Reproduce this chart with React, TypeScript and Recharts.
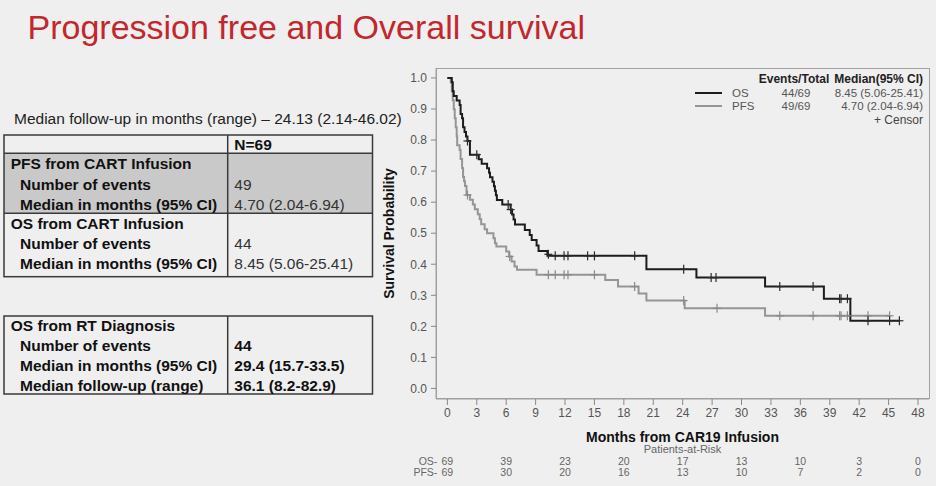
import React from 'react';
import { ComposedChart, Line, Scatter, XAxis, YAxis, Legend } from 'recharts';

const FONT = '"Liberation Sans", Arial, Helvetica, sans-serif';

// ---- axis ticks ----
const monthTicks = [0, 3, 6, 9, 12, 15, 18, 21, 24, 27, 30, 33, 36, 39, 42, 45, 48];
const probTicks = [0, 0.1, 0.2, 0.3, 0.4, 0.5, 0.6, 0.7, 0.8, 0.9, 1.0];

// ---- patients at risk ----
const riskTimes = [0, 6, 12, 18, 24, 30, 36, 42, 48];
const osAtRisk = [69, 39, 23, 20, 17, 13, 10, 3, 0];
const pfsAtRisk = [69, 30, 20, 16, 13, 10, 7, 2, 0];

// ---- OS Kaplan-Meier steps ----
const osTimes = [0, 0.45, 0.55, 0.65, 0.95, 1.25, 1.35, 1.5, 1.6, 1.75, 1.9, 2.05, 2.3, 3.2, 3.5, 4.05, 4.25, 4.35, 4.6, 4.75, 4.85, 4.95, 5.05, 5.6, 6.45, 6.6, 6.75, 6.9, 7.9, 8.4, 8.6, 9.1, 9.3, 10.2, 20.3, 25.4, 32.4, 38.4, 41.1, 46.1];
const osSurv = [1.0, 0.986, 0.957, 0.942, 0.927, 0.913, 0.884, 0.87, 0.841, 0.826, 0.811, 0.797, 0.753, 0.738, 0.724, 0.709, 0.695, 0.68, 0.666, 0.651, 0.637, 0.622, 0.607, 0.592, 0.576, 0.56, 0.544, 0.528, 0.51, 0.494, 0.478, 0.46, 0.443, 0.427, 0.384, 0.357, 0.328, 0.289, 0.218, 0.218];

// ---- PFS Kaplan-Meier steps ----
const pfsTimes = [0, 0.35, 0.45, 0.55, 0.65, 0.75, 0.85, 0.95, 1.0, 1.25, 1.35, 1.5, 1.6, 1.7, 1.8, 1.95, 2.3, 2.6, 2.8, 3.1, 3.3, 3.45, 3.8, 4.05, 4.7, 4.85, 5.0, 6.0, 6.3, 6.55, 6.85, 7.1, 9.1, 16.1, 17.4, 19.5, 20.3, 24.2, 32.4, 45.1];
const pfsSurv = [1.0, 0.986, 0.957, 0.928, 0.899, 0.87, 0.841, 0.812, 0.783, 0.768, 0.739, 0.71, 0.681, 0.667, 0.652, 0.623, 0.608, 0.592, 0.577, 0.561, 0.545, 0.529, 0.513, 0.5, 0.484, 0.468, 0.457, 0.441, 0.425, 0.409, 0.393, 0.382, 0.366, 0.349, 0.328, 0.306, 0.283, 0.258, 0.234, 0.234];

// ---- censor marks ----
const osCensorTimes = [2.05, 3.0, 6.2, 6.45, 10.3, 11.0, 11.9, 12.3, 14.3, 15.0, 19.1, 24.1, 26.9, 27.4, 33.9, 37.3, 40.0, 40.15, 40.8, 42.9, 45.1, 46.1];
const osCensorSurv = [0.797, 0.753, 0.592, 0.576, 0.432, 0.427, 0.427, 0.427, 0.427, 0.427, 0.427, 0.384, 0.357, 0.357, 0.328, 0.328, 0.289, 0.289, 0.289, 0.218, 0.218, 0.218];
const pfsCensorTimes = [2.05, 6.35, 10.3, 11.0, 11.9, 12.3, 15.0, 19.1, 24.1, 27.5, 33.9, 37.3, 40.0, 40.15, 40.8, 42.9, 45.1];
const pfsCensorSurv = [0.623, 0.425, 0.366, 0.366, 0.366, 0.366, 0.366, 0.328, 0.283, 0.258, 0.234, 0.234, 0.234, 0.234, 0.234, 0.234, 0.234];

const zip = (ts: number[], ss: number[]) => ts.map((t, i) => ({ t, s: ss[i] }));
const osData = zip(osTimes, osSurv);
const pfsData = zip(pfsTimes, pfsSurv);
const osCensor = zip(osCensorTimes, osCensorSurv);
const pfsCensor = zip(pfsCensorTimes, pfsCensorSurv);

const OS_COLOR = '#1c1c1c';
const PFS_COLOR = '#959595';
const FRAME = '#a0a0a0';

const makeCross = (color: string) => (props: any) => {
  const { cx, cy } = props;
  if (cx == null || cy == null) return <g />;
  return (
    <g stroke={color} strokeWidth={1.2}>
      <line x1={cx - 4} y1={cy} x2={cx + 4} y2={cy} />
      <line x1={cx} y1={cy - 4.5} x2={cx} y2={cy + 4.5} />
    </g>
  );
};

const RISK_FS = 10.5;

const XTick = (props: any) => {
  const { x, y, payload } = props;
  const v = payload.value;
  const i = riskTimes.indexOf(v);
  return (
    <g fontFamily={FONT}>
      <text x={x} y={y + 9} textAnchor="middle" fontSize={12} fill="#555">{v}</text>
      {i >= 0 && (
        <text x={x} y={y + 56.5} textAnchor="middle" fontSize={RISK_FS} fill="#666">{osAtRisk[i]}</text>
      )}
      {i >= 0 && (
        <text x={x} y={y + 67.5} textAnchor="middle" fontSize={RISK_FS} fill="#666">{pfsAtRisk[i]}</text>
      )}
      {i === 0 && (
        <text x={x - 10} y={y + 56.5} textAnchor="end" fontSize={RISK_FS} fill="#666">OS-</text>
      )}
      {i === 0 && (
        <text x={x - 10} y={y + 67.5} textAnchor="end" fontSize={RISK_FS} fill="#666">PFS-</text>
      )}
    </g>
  );
};

const renderXLabel = (props: any) => {
  const vb = props.viewBox || {};
  const cx = vb.x + vb.width / 2;
  return (
    <g fontFamily={FONT}>
      <text x={cx} y={vb.y + 42.5} textAnchor="middle" fontSize={14} fontWeight="bold" fill="#111">
        Months from CAR19 Infusion
      </text>
      <text x={cx} y={vb.y + 54} textAnchor="middle" fontSize={11} fill="#666">
        Patients-at-Risk
      </text>
    </g>
  );
};

const renderYLabel = (props: any) => {
  const vb = props.viewBox || {};
  const cx = vb.x + 3;
  const cy = vb.y + vb.height / 2;
  return (
    <text
      x={cx}
      y={cy + 5}
      transform={`rotate(-90, ${cx}, ${cy})`}
      textAnchor="middle"
      fontSize={14}
      fontWeight="bold"
      fill="#111"
      fontFamily={FONT}
    >
      Survival Probability
    </text>
  );
};

const renderLegend = () => (
  <svg width={250} height={60} style={{ display: 'block' }} fontFamily={FONT}>
    <text x={114} y={13.3} textAnchor="middle" fontSize={12} fontWeight="bold" fill="#222">Events/Total</text>
    <text x={243} y={13.3} textAnchor="end" fontSize={12} fontWeight="bold" fill="#222">Median(95% CI)</text>
    <line x1={15} y1={23} x2={42} y2={23} stroke={OS_COLOR} strokeWidth={2} />
    <text x={52} y={27.1} fontSize={11.5} fill="#555">OS</text>
    <text x={116} y={27.1} textAnchor="middle" fontSize={11.5} fill="#555">44/69</text>
    <text x={243} y={27.1} textAnchor="end" fontSize={11.5} fill="#555">8.45 (5.06-25.41)</text>
    <line x1={15} y1={36} x2={42} y2={36} stroke={PFS_COLOR} strokeWidth={2} />
    <text x={52} y={40.1} fontSize={11.5} fill="#555">PFS</text>
    <text x={116} y={40.1} textAnchor="middle" fontSize={11.5} fill="#555">49/69</text>
    <text x={243} y={40.1} textAnchor="end" fontSize={11.5} fill="#555">4.70 (2.04-6.94)</text>
    <text x={243} y={54} textAnchor="end" fontSize={12} fill="#444">+ Censor</text>
  </svg>
);

const LeftTables = () => {
  const lbl = { fontSize: 15.5, fontWeight: 'bold' as const, fill: '#111' };
  const val = { fontSize: 15.5, fill: '#333' };
  const valB = { fontSize: 15.5, fontWeight: 'bold' as const, fill: '#111' };
  const B = '#3a3a3a';
  return (
    <svg width={936} height={486} style={{ position: 'absolute', left: 0, top: 0 }} fontFamily={FONT}>
      <text x={14} y={123.5} fontSize={15.5} fill="#222">Median follow-up in months (range) – 24.13 (2.14-46.02)</text>
      {/* table 1 */}
      <rect x={4} y={153.3} width={368.5} height={60} fill="#c9c9c9" />
      <rect x={4} y={135} width={368.5} height={141.7} fill="none" stroke={B} strokeWidth={1.5} />
      <line x1={4} y1={153.3} x2={372.5} y2={153.3} stroke={B} strokeWidth={1.5} />
      <line x1={4} y1={213.3} x2={372.5} y2={213.3} stroke={B} strokeWidth={1.5} />
      <line x1={227.7} y1={135} x2={227.7} y2={276.7} stroke={B} strokeWidth={1.5} />
      <text x={234.3} y={150.3} {...valB}>N=69</text>
      <text x={10.7} y={169} {...lbl}>PFS from CART Infusion</text>
      <text x={20} y={189.5} {...lbl}>Number of events</text>
      <text x={234.3} y={189.5} {...val}>49</text>
      <text x={20} y={210} {...lbl}>Median in months (95% CI)</text>
      <text x={234.3} y={210} {...val}>4.70 (2.04-6.94)</text>
      <text x={10.7} y={228.8} {...lbl}>OS from CART Infusion</text>
      <text x={20} y={248.8} {...lbl}>Number of events</text>
      <text x={234.3} y={248.8} {...val}>44</text>
      <text x={20} y={268.8} {...lbl}>Median in months (95% CI)</text>
      <text x={234.3} y={268.8} {...val}>8.45 (5.06-25.41)</text>
      {/* table 2 */}
      <rect x={4} y={316} width={368.5} height={78} fill="none" stroke={B} strokeWidth={1.5} />
      <line x1={227.7} y1={316} x2={227.7} y2={394} stroke={B} strokeWidth={1.5} />
      <text x={10.7} y={330.5} {...lbl}>OS from RT Diagnosis</text>
      <text x={20} y={350.5} {...lbl}>Number of events</text>
      <text x={234.3} y={350.5} {...valB}>44</text>
      <text x={20} y={370.5} {...lbl}>Median in months (95% CI)</text>
      <text x={234.3} y={370.5} {...valB}>29.4 (15.7-33.5)</text>
      <text x={20} y={390.5} {...lbl}>Median follow-up (range)</text>
      <text x={234.3} y={390.5} {...valB}>36.1 (8.2-82.9)</text>
    </svg>
  );
};

const X_DOMAIN: [number, number] = [-1.16, 49.12];
const Y_DOMAIN: [number, number] = [-0.034, 1.032];

export default function App() {
  return (
    <div
      style={{
        position: 'absolute',
        left: 0,
        top: 0,
        width: 936,
        height: 486,
        background: '#efefef',
        overflow: 'hidden',
        fontFamily: FONT,
      }}
    >
      <div
        style={{
          position: 'absolute',
          left: 27.5,
          top: 10,
          fontSize: 34,
          lineHeight: '34px',
          color: '#c3272e',
          whiteSpace: 'nowrap',
          fontFamily: FONT,
        }}
      >
        Progression free and Overall survival
      </div>
      <LeftTables />
      {/* plot wall frame (top / right edges) */}
      <div
        style={{
          position: 'absolute',
          left: 436,
          top: 68,
          width: 494,
          height: 331,
          boxSizing: 'border-box',
          border: `1px solid ${FRAME}`,
        }}
      />
      <div style={{ position: 'absolute', left: 0, top: 0 }}>
        <ComposedChart width={936} height={486} margin={{ top: 68, right: 7, bottom: 27, left: 386 }}>
          <XAxis
            dataKey="t"
            type="number"
            domain={X_DOMAIN}
            allowDataOverflow
            ticks={monthTicks}
            interval={0}
            tick={XTick}
            tickSize={6}
            tickMargin={3}
            height={60}
            axisLine={{ stroke: FRAME }}
            tickLine={{ stroke: '#888' }}
            label={renderXLabel}
          />
          <YAxis
            type="number"
            domain={Y_DOMAIN}
            allowDataOverflow
            ticks={probTicks}
            interval={0}
            tickFormatter={(v: number) => v.toFixed(1)}
            width={50}
            tickSize={5}
            tickMargin={4}
            tick={{ fontSize: 12, fill: '#555', fontFamily: FONT }}
            axisLine={{ stroke: FRAME }}
            tickLine={{ stroke: '#888' }}
            label={renderYLabel}
          />
          <Line
            data={pfsData}
            dataKey="s"
            type="stepAfter"
            stroke={PFS_COLOR}
            strokeWidth={2}
            dot={false}
            activeDot={false}
            isAnimationActive={false}
          />
          <Line
            data={osData}
            dataKey="s"
            type="stepAfter"
            stroke={OS_COLOR}
            strokeWidth={2}
            dot={false}
            activeDot={false}
            isAnimationActive={false}
          />
          <Scatter data={pfsCensor} dataKey="s" shape={makeCross('#8a8a8a')} isAnimationActive={false} />
          <Scatter data={osCensor} dataKey="s" shape={makeCross('#2a2a2a')} isAnimationActive={false} />
          <Legend
            layout="horizontal"
            verticalAlign="middle"
            align="center"
            content={renderLegend}
            wrapperStyle={{ top: 70, left: 680, width: 250, height: 60 }}
          />
        </ComposedChart>
      </div>
    </div>
  );
}
